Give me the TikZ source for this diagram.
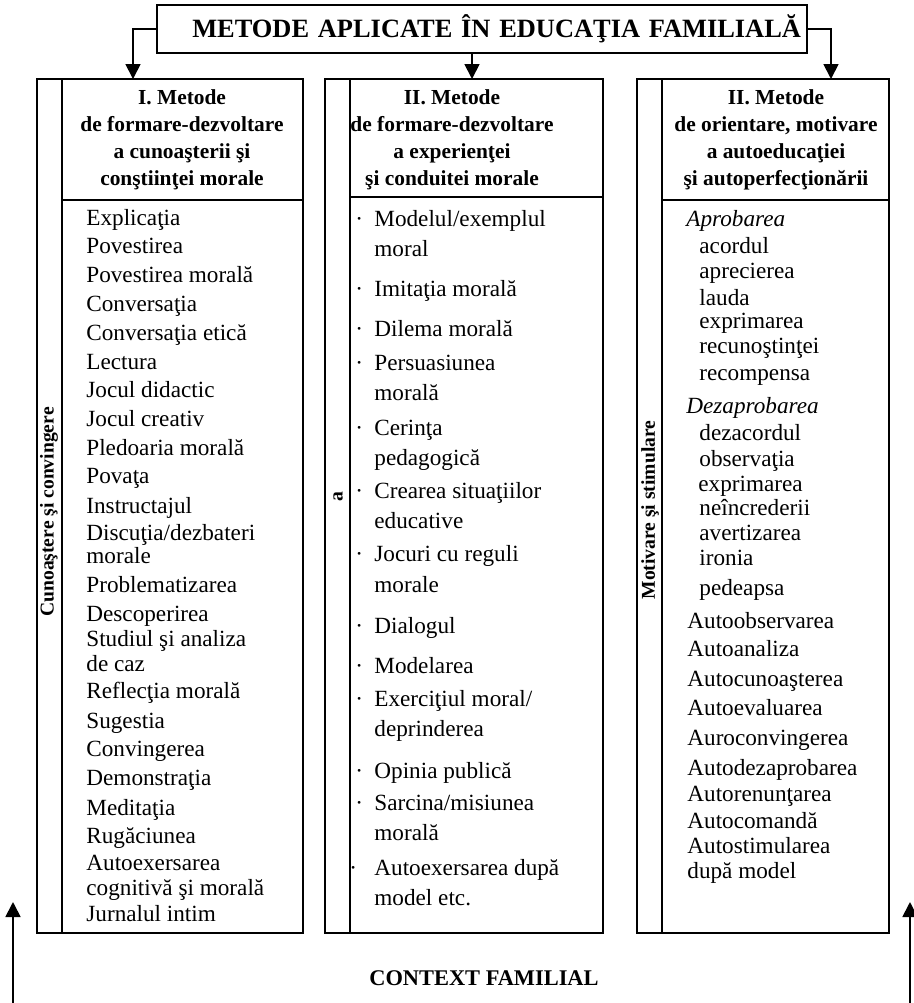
\documentclass[tikz,border=0pt]{standalone}
\usepackage{fontspec}
\setmainfont{Liberation Serif}
\usetikzlibrary{arrows.meta}
\tikzset{
  colbox/.style={draw, line width=0.9pt, inner sep=0pt, outer sep=0pt, minimum height=427pt, anchor=north west},
  head/.style={align=center, inner sep=0pt, font=\bfseries\fontsize{10.7pt}{13.5pt}\selectfont},
  item/.style={anchor=base west, inner sep=0pt, font=\fontsize{11.6pt}{14pt}\selectfont},
  side/.style={rotate=90, inner sep=0pt, font=\bfseries\fontsize{9.8pt}{12pt}\selectfont},
  arr/.style={line width=0.9pt, -{Triangle[length=7.5pt,width=7.5pt]}},
}
\begin{document}
\begin{tikzpicture}[x=0.5pt,y=-0.5pt]
\useasboundingbox (0,0) rectangle (914,1003);
% title box
\node[draw, line width=0.9pt, text width=319pt, inner xsep=3pt, minimum height=24pt, align=right,
  font=\bfseries\fontsize{13.2pt}{16pt}\selectfont] (title) at (482,29) {METODE APLICATE ÎN EDUCAŢIA FAMILIALĂ};
% the three columns
\node[colbox, minimum width=133pt] (c1) at (37,79) {};
\node[colbox, minimum width=139pt] (c2) at (325,79) {};
\node[colbox, minimum width=126pt] (c3) at (637,79) {};
\foreach \c/\h in {c1/121,c2/118,c3/121} {
  \draw[line width=0.9pt] ([shift={(25,0)}]\c.north west) -- ([shift={(25,0)}]\c.south west);
  \draw[line width=0.9pt] ([shift={(25,\h)}]\c.north west) -- ([shift={(0,\h)}]\c.north east);
}
\draw[arr] (title.west) -| ([shift={(-37,0)}]c1.north);
\draw[arr] ([shift={(-10,0)}]title.south) -- ([shift={(8,0)}]c2.north);
\draw[arr] (title.east) -| ([shift={(68,0)}]c3.north);
% headers
\node[head] (h1) at (182,140) {I. Metode\\de formare-dezvoltare\\a cunoaşterii şi\\conştiinţei morale};
\node[head] (h2) at (452,140) {II. Metode\\de formare-dezvoltare\\a experienţei\\şi conduitei morale};
\node[head] (h3) at (776,140) {II. Metode\\de orientare, motivare\\a autoeducaţiei\\şi autoperfecţionării};
% side strips
\node[side] (s1) at (49,512) {Cunoaştere şi convingere};
\node[side] (s2) at (338,497) {a};
\node[side] (s3) at (650,510) {Motivare şi stimulare};
% left column
\foreach \y/\t in {217/Explicaţia, 245/Povestirea, 274/Povestirea morală, 303/Conversaţia,
  332/Conversaţia etică, 361/Lectura, 389/Jocul didactic, 418/Jocul creativ, 447/Pledoaria morală,
  475/Povaţa, 505/Instructajul, 532/{Discuţia/dezbateri}, 555/morale, 584/Problematizarea,
  613/Descoperirea, 638/Studiul şi analiza, 663/de caz, 690/Reflecţia morală, 720/Sugestia,
  748/Convingerea, 777/Demonstraţia, 807/Meditaţia, 835/Rugăciunea, 862/Autoexersarea,
  887/cognitivă şi morală, 913/Jurnalul intim}
  \node[item] (l\y) at (86,\y+8) {\t};
% middle column
\foreach \y/\t in {218/{Modelul/exemplul}, 248/moral, 288/Imitaţia morală, 328/Dilema morală,
  362/Persuasiunea, 392/morală, 427/Cerinţa, 457/pedagogică, 490/Crearea situaţiilor,
  520/educative, 553/Jocuri cu reguli, 584/morale, 625/Dialogul, 665/Modelarea,
  698/{Exerciţiul moral/}, 728/deprinderea, 770/Opinia publică, 802/{Sarcina/misiunea},
  832/morală, 867/Autoexersarea după, 897/model etc.}
  \node[item] (m\y) at (374,\y+8) {\t};
\foreach \x/\y in {355/218,355/288,355/328,355/362,355/427,355/490,355/553,355/625,355/665,355/698,355/770,355/802,349/867}
  \node[item] (b\y) at (\x,\y+8) {·};
% right column
\foreach \x/\y/\t in {686/218/\textit{Aprobarea}, 699/245/acordul, 699/270/aprecierea, 699/297/lauda,
  699/320/exprimarea, 699/345/recunoştinţei, 699/372/recompensa, 686/405/\textit{Dezaprobarea},
  699/432/dezacordul, 699/458/observaţia, 698/483/exprimarea, 699/507/neîncrederii,
  699/532/avertizarea, 699/557/ironia, 699/587/pedeapsa, 687/620/Autoobservarea,
  687/648/Autoanaliza, 687/678/Autocunoaşterea, 687/707/Autoevaluarea, 687/737/Auroconvingerea,
  687/767/Autodezaprobarea, 687/793/Autorenunţarea, 687/820/Autocomandă, 687/845/Autostimularea,
  687/870/după model}
  \node[item] (r\y) at (\x,\y+8) {\t};
% context
\node[font=\bfseries\fontsize{11.2pt}{13pt}\selectfont] (ctx) at (484,978) {CONTEXT FAMILIAL};
\coordinate (fromL) at (13,1003);
\coordinate (toL) at (13,902);
\coordinate (fromR) at (910,1003);
\coordinate (toR) at (910,902);
\draw[arr] (fromL) -- (toL);
\draw[arr] (fromR) -- (toR);
\end{tikzpicture}
\end{document}
